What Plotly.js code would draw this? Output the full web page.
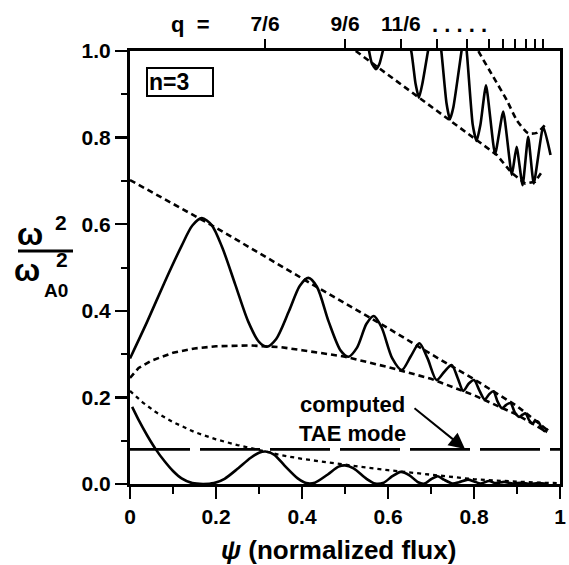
<!DOCTYPE html>
<html>
<head>
<meta charset="utf-8">
<script src="https://cdn.plot.ly/plotly-3.0.1.min.js"></script>
<style>html,body{margin:0;padding:0;background:#fff}#chart{width:569px;height:565px}</style>
</head>
<body>
<div id="chart"></div>
<script>
// ---- data ----
// middle continuum (solid)
var midX = [0.000,0.040,0.080,0.120,0.145,0.167,0.190,0.215,0.245,0.275,0.300,0.318,0.340,0.370,0.395,0.415,0.435,0.462,0.490,0.508,0.528,0.550,0.567,0.585,0.610,0.632,0.653,0.673,0.692,0.713,0.730,0.748,0.762,0.775,0.788,0.800,0.813,0.825,0.835,0.845,0.855,0.865,0.875,0.885,0.895,0.905,0.913,0.920,0.928,0.935,0.942,0.950,0.958,0.965,0.972];
var midY = [0.290,0.375,0.465,0.550,0.597,0.614,0.598,0.545,0.460,0.375,0.328,0.317,0.335,0.400,0.458,0.476,0.455,0.375,0.308,0.294,0.315,0.370,0.388,0.362,0.290,0.263,0.295,0.325,0.290,0.240,0.258,0.275,0.245,0.215,0.232,0.240,0.215,0.195,0.207,0.214,0.190,0.175,0.183,0.187,0.165,0.155,0.160,0.163,0.148,0.140,0.145,0.143,0.128,0.122,0.128];
// middle continuum upper boundary (dotted)
var midUpX = [0.00,0.20,0.40,0.60,0.70,0.80,0.90,0.97];
var midUpY = [0.702,0.592,0.475,0.360,0.300,0.242,0.180,0.125];
// middle continuum lower boundary (dotted)
var midLoX = [0.000,0.020,0.050,0.100,0.150,0.200,0.280,0.350,0.400,0.500,0.600,0.700,0.800,0.900,0.970];
var midLoY = [0.245,0.268,0.285,0.303,0.313,0.318,0.320,0.316,0.309,0.294,0.270,0.243,0.205,0.160,0.120];
// lower continuum (solid)
var lowX = [0.005,0.020,0.040,0.060,0.080,0.100,0.120,0.145,0.170,0.195,0.220,0.250,0.280,0.300,0.315,0.335,0.360,0.390,0.410,0.430,0.460,0.485,0.500,0.520,0.550,0.570,0.590,0.610,0.630,0.650,0.670,0.685,0.700,0.716,0.730,0.750,0.765,0.786,0.800,0.815,0.835,0.850,0.870,0.890,0.910,0.930,0.950,0.970];
var lowY = [0.178,0.148,0.112,0.080,0.053,0.030,0.013,0.002,0.000,0.002,0.012,0.035,0.060,0.072,0.075,0.068,0.042,0.013,0.002,0.003,0.022,0.040,0.043,0.036,0.012,0.001,0.003,0.018,0.028,0.020,0.004,0.001,0.011,0.018,0.010,0.001,0.004,0.010,0.006,0.001,0.007,0.002,0.005,0.001,0.003,0.000,0.002,0.000];
// lower continuum upper boundary (dotted)
var lowEnvX = [0.00,0.03,0.06,0.10,0.15,0.20,0.25,0.30,0.35,0.40,0.45,0.50,0.55,0.60,0.65,0.70,0.75,0.80,0.85,0.90,0.95,1.00];
var lowEnvY = [0.215,0.188,0.166,0.143,0.120,0.103,0.090,0.078,0.067,0.058,0.051,0.045,0.038,0.032,0.027,0.022,0.016,0.011,0.008,0.005,0.003,0.002];
// upper continuum (solid, runs off the top)
var upX = [0.548,0.556,0.563,0.572,0.580,0.588,0.620,0.654,0.664,0.672,0.680,0.693,0.710,0.724,0.736,0.744,0.752,0.771,0.777,0.783,0.797,0.806,0.815,0.828,0.849,0.868,0.888,0.899,0.913,0.926,0.939,0.961,0.978];
var upY = [1.060,1.000,0.970,0.958,0.970,1.000,1.120,1.000,0.925,0.892,0.925,1.000,1.100,1.000,0.880,0.842,0.870,1.000,1.040,1.000,0.830,0.792,0.830,0.921,0.762,0.860,0.714,0.779,0.690,0.802,0.694,0.825,0.760];
// upper continuum lower boundary (dotted)
var upLoX = [0.525,0.581,0.674,0.748,0.806,0.853,0.888,0.919,0.942,0.961];
var upLoY = [1.000,0.959,0.891,0.835,0.793,0.760,0.718,0.694,0.698,0.725];
// upper continuum upper boundary (dotted)
var upHiX = [0.800,0.810,0.845,0.876,0.899,0.926,0.946,0.965];
var upHiY = [1.020,1.000,0.940,0.887,0.841,0.810,0.811,0.829];
// computed TAE mode frequency
var taeX = [0, 1];
var taeY = [0.08, 0.08];
// q = (2m+1)/6 gap positions on the top axis
var qTickVals = [0.314,0.500,0.630,0.714,0.784,0.835,0.867,0.895,0.921,0.942,0.960];
var qTickText = ['7/6','9/6','11/6','','','','','','','',''];

// ---- drawing ----
var solid = {color:'#000', width:2.6};
var dotted = {color:'#000', width:2.6, dash:'6px,4px'};
function tr(x, y, line, extra) {
  var t = {x:x, y:y, mode:'lines', line:line, hoverinfo:'skip', showlegend:false};
  for (var k in extra) t[k] = extra[k];
  return t;
}
var traces = [
  tr(midUpX, midUpY, dotted),
  tr(midLoX, midLoY, dotted),
  tr(midX, midY, Object.assign({shape:'spline', smoothing:0.8}, solid)),
  tr(lowEnvX, lowEnvY, {color:'#000', width:2.3, dash:'4px,4px'}),
  tr(lowX, lowY, Object.assign({shape:'spline', smoothing:0.7}, solid)),
  tr(upLoX, upLoY, dotted),
  tr(upHiX, upHiY, Object.assign({shape:'spline', smoothing:0.6}, dotted)),
  tr(upX, upY, Object.assign({shape:'spline', smoothing:0.5}, solid)),
  tr(taeX, taeY, {color:'#000', width:2.6, dash:'60px,10px'}, {xaxis:'x2'})
];

var FONT = 'Liberation Sans, Arial, Helvetica, sans-serif';
function bf(size) { return {size:size, family:FONT, color:'#000', weight:'bold'}; }
function px2x(p) { return (p - 130) / 430; }
function px2y(p) { return (484 - p) / 433; }

var layout = {
  width: 569, height: 565,
  margin: {l:130, r:9, t:51, b:81, pad:0},
  paper_bgcolor:'#fff', plot_bgcolor:'#fff',
  font: {family: FONT, color:'#000', size:21},
  xaxis: {
    range:[0,1], tick0:0, dtick:0.2, ticks:'outside', ticklen:12, tickwidth:2.5, tickcolor:'#000',
    showline:true, linewidth:3, linecolor:'#000', mirror:true, showgrid:false, zeroline:false,
    tickfont:bf(21),
    minor:{dtick:0.1, ticks:'outside', ticklen:7, tickwidth:2, tickcolor:'#000', showgrid:false}
  },
  xaxis2: {
    overlaying:'x', side:'top', range:[0,1], tickmode:'array', tickvals:qTickVals, ticktext:qTickText,
    ticks:'outside', ticklen:9, tickwidth:2, tickcolor:'#000',
    showline:true, linewidth:3, linecolor:'#000', showgrid:false, zeroline:false,
    tickfont:bf(21)
  },
  yaxis: {
    range:[0,1], tick0:0, dtick:0.2, tickformat:'.1f', ticks:'outside', ticklen:12, tickwidth:2.5, tickcolor:'#000',
    showline:true, linewidth:3, linecolor:'#000', mirror:true, showgrid:false, zeroline:false,
    tickfont:bf(21),
    minor:{dtick:0.1, ticks:'outside', ticklen:6, tickwidth:2, tickcolor:'#000', showgrid:false}
  },
  shapes: [
    {type:'line', xref:'paper', yref:'paper', x0:px2x(18), x1:px2x(73), y0:px2y(251), y1:px2y(251), line:{color:'#000', width:3}}
  ],
  annotations: [
    // y-axis fraction title
    {xref:'paper', yref:'paper', x:px2x(30), y:px2y(234), text:'ω', showarrow:false, font:bf(31), xanchor:'center', yanchor:'middle'},
    {xref:'paper', yref:'paper', x:px2x(61), y:px2y(222), text:'2', showarrow:false, font:bf(21), xanchor:'center', yanchor:'middle'},
    {xref:'paper', yref:'paper', x:px2x(27), y:px2y(270), text:'ω', showarrow:false, font:bf(31), xanchor:'center', yanchor:'middle'},
    {xref:'paper', yref:'paper', x:px2x(62), y:px2y(259), text:'2', showarrow:false, font:bf(21), xanchor:'center', yanchor:'middle'},
    {xref:'paper', yref:'paper', x:px2x(56), y:px2y(290), text:'A0', showarrow:false, font:bf(19), xanchor:'center', yanchor:'middle'},
    // x-axis title
    {xref:'paper', yref:'paper', x:px2x(338), y:px2y(550), text:'<i>ψ</i> (normalized flux)', showarrow:false, font:bf(26), xanchor:'center', yanchor:'middle'},
    // top axis "q =" and dots
    {xref:'paper', yref:'paper', x:px2x(190), y:px2y(24), text:'q&nbsp;&nbsp;=', showarrow:false, font:bf(22), xanchor:'center', yanchor:'middle'},
    {xref:'paper', yref:'paper', x:px2x(459), y:px2y(24), text:'. . . . .', showarrow:false, font:bf(22), xanchor:'center', yanchor:'middle'},
    // n=3 box
    {xref:'paper', yref:'paper', x:px2x(146), y:px2y(82), text:'n=3', showarrow:false, font:bf(23), xanchor:'left', yanchor:'middle',
     align:'left', width:62, height:24, bordercolor:'#000', borderwidth:2, borderpad:1, bgcolor:'#fff'},
    // computed TAE mode label + arrow
    {xref:'x', yref:'y', x:px2x(352), y:px2y(419), text:'computed<br>TAE mode', showarrow:false, font:bf(22), xanchor:'center', yanchor:'middle', align:'center'},
    {xref:'x', yref:'y', x:px2x(465), y:px2y(449), axref:'x', ayref:'y', ax:px2x(413), ay:px2y(407), text:'', showarrow:true,
     arrowhead:2, arrowsize:1.6, arrowwidth:2, arrowcolor:'#000', standoff:0}
  ]
};
Plotly.newPlot('chart', traces, layout, {staticPlot:true, displayModeBar:false});
</script>
</body>
</html>
